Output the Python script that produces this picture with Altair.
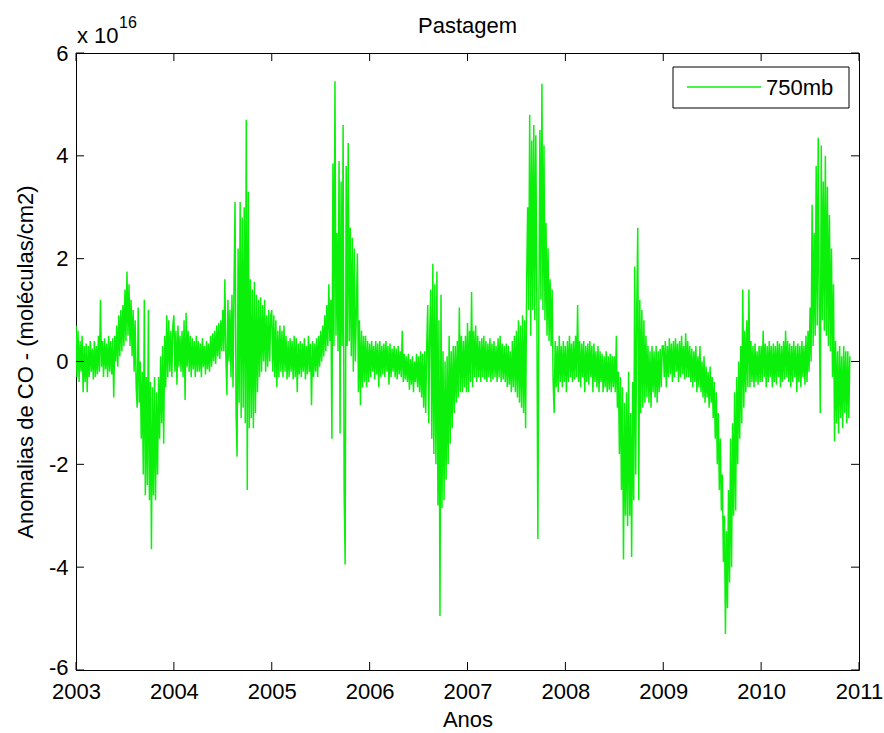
import altair as alt
import pandas as pd

# ---------------- data (units of 1e16 molecules/cm2) ----------------
series_name = "750mb"
title_text = "Pastagem"
x_title = "Anos"
y_title = "Anomalias de CO - (moléculas/cm2)"
scale_base = "x 10"
scale_exp = "16"

years = [2003, 2004, 2005, 2006, 2007, 2008, 2009, 2010]
steps_per_year = 96

v2003 = [0.7, -0.3, 0.6, -0.4, 0.4, -0.2, 0.5, -0.6, 0.3, -0.4, 0.35, -0.6,
         0.3, -0.3, 0.4, -0.2, 0.25, -0.35, 0.4, -0.3, 0.3, -0.25, 0.5, -0.2,
         1.2, -0.1, 0.4, -0.3, 0.45, -0.15, 0.35, -0.3, 0.5, -0.2, 0.4, -0.25,
         0.45, -0.7, 0.5, 0.0, 0.7, -0.1, 0.9, 0.1, 1.0, 0.2, 1.1, 0.3,
         1.4, 0.4, 1.75, 0.5, 1.5, 0.3, 1.2, 0.1, 1.0, -0.2, 0.8, -0.5,
         -0.9, 1.05, -0.8, 0.0, -1.5, -0.2, -2.2, 1.2, -2.6, -0.3, -2.4, 1.0,
         -2.7, -0.4, -3.65, -0.5, -2.6, -0.3, -2.7, -0.6, -2.2, -0.3, -1.5, 0.1,
         -1.2, 0.3, -1.6, 0.5, -0.5, 0.9, -0.3, 0.8, -0.2, 0.6, -0.3, 0.7]
v2004 = [0.9, -0.2, 0.6, -0.45, 0.7, -0.1, 0.5, -0.2, 0.6, -0.3, 0.8, -0.75,
         0.95, -0.1, 0.6, -0.2, 0.5, -0.3, 0.45, -0.15, 0.4, -0.3, 0.5, -0.2,
         0.4, -0.2, 0.35, -0.3, 0.45, -0.1, 0.3, -0.25, 0.4, -0.15, 0.35, -0.2,
         0.5, -0.1, 0.55, 0.0, 0.6, -0.05, 0.7, 0.1, 0.75, 0.05, 0.8, 0.2,
         1.0, 0.2, 1.6, 0.1, -0.65, 1.2, 0.0, 1.0, -0.3, 1.3, -0.5, 1.5,
         3.1, -1.0, -1.85, 2.2, -0.8, 3.1, -1.1, 2.8, -0.9, 3.0, -1.2, 4.7,
         -2.5, 3.3, -1.3, 1.6, -1.1, 1.4, -1.3, 1.55, -1.0, 1.3, -0.6, 1.2,
         -0.3, 1.25, -0.2, 1.1, 0.0, 1.2, -0.2, 0.9, -0.1, 1.0, 0.0, 0.9]
v2005 = [1.0, -0.2, 0.9, -0.3, 0.8, -0.5, 0.6, -0.3, 0.7, -0.2, 0.6, -0.3,
         0.7, -0.2, 0.5, -0.35, 0.4, -0.3, 0.45, -0.2, 0.4, -0.35, 0.5, -0.3,
         0.45, -0.6, 0.35, -0.25, 0.4, -0.3, 0.35, -0.2, 0.45, -0.35, 0.3, -0.25,
         0.5, -0.2, 0.35, -0.85, 0.4, -0.3, 0.35, -0.2, 0.45, -0.3, 0.5, -0.1,
         0.6, 0.0, 0.7, 0.1, 0.9, 0.2, 1.1, 0.3, 1.5, 0.4, 1.2, -1.5,
         3.85, 0.3, 5.45, 0.5, 2.5, 0.2, 3.9, -1.4, 3.5, 0.3, 4.6, -2.55,
         -3.95, 3.8, 0.3, 4.25, 0.4, 2.6, 0.1, 2.4, -0.2, 2.2, 0.0, 1.0,
         2.1, -0.6, 0.8, -0.85, 0.6, -0.5, 0.5, -0.4, 0.5, -0.5, 0.4, -0.4]
v2006 = [0.35, -0.3, 0.4, -0.2, 0.3, -0.35, 0.4, -0.25, 0.35, -0.5, 0.4, -0.3,
         0.3, -0.25, 0.35, -0.3, 0.4, -0.2, 0.3, -0.45, 0.35, -0.3, 0.25, -0.2,
         0.3, -0.3, 0.25, -0.35, 0.3, -0.25, 0.2, -0.3, 0.6, -0.4, 0.15, -0.35,
         0.1, -0.4, 0.15, -0.55, 0.05, -0.45, 0.1, -0.6, 0.0, -0.4, 0.15, -0.5,
         0.1, -0.6, 0.2, -0.7, 0.15, -0.9, 0.2, -1.0, 0.3, 1.1, -1.2, 0.6,
         1.4, -1.5, 1.9, -1.8, 1.5, -2.0, 1.75, -2.8, 0.8, -4.95, 1.3, -2.85,
         0.2, -2.7, 0.0, -2.3, 0.1, -2.0, 0.5, -1.6, 0.2, -1.3, 0.3, -1.0,
         0.3, -0.8, 0.4, -0.7, 1.05, -0.6, 0.5, -0.6, 0.4, -0.5, 0.5, -0.6]
v2007 = [0.75, -0.6, 0.6, -0.4, 1.35, -0.5, 0.6, -0.3, 0.7, -0.4, 0.5, -0.3,
         0.4, -0.4, 0.45, -0.3, 0.5, -0.35, 0.4, -0.4, 0.35, -0.3, 0.45, -0.4,
         0.35, -0.35, 0.4, -0.3, 0.3, -0.4, 0.45, -0.3, 0.5, -0.4, 0.35, -0.35,
         0.3, -0.4, 0.35, -0.5, 0.3, -0.45, 0.2, -0.6, 0.4, -0.5, 0.5, -0.6,
         0.6, -0.7, 0.8, -0.8, 0.7, -0.9, 0.9, -1.0, 0.8, -1.3, 1.5, 3.0,
         1.0, 4.8, 0.5, 4.3, 1.0, 4.6, 0.8, 4.4, 1.2, -3.45, 1.0, 4.5,
         1.2, 5.4, 1.0, 4.2, 0.8, 2.7, 0.5, 2.2, 0.4, 1.6, 0.3, 1.4,
         -0.4, -1.0, 0.4, -0.5, 0.3, -0.6, 0.5, -0.4, 0.3, -0.5, 0.4, -0.4]
v2008 = [0.3, -0.6, 0.4, -0.4, 0.5, -0.3, 0.35, -0.4, 0.4, -0.35, 0.5, -0.3,
         1.1, -0.4, 0.4, -0.5, 0.35, -0.3, 0.4, -0.6, 0.3, -0.4, 0.35, -0.45,
         0.4, -0.3, 0.3, -0.6, 0.35, -0.4, 0.2, -0.5, 0.3, -0.6, 0.2, -0.4,
         0.15, -0.6, 0.1, -0.5, 0.2, -0.6, 0.1, -0.55, 0.15, -0.6, 0.1, -0.5,
         0.1, -0.6, 0.5, -0.9, -0.2, -1.8, -0.3, -2.5, -0.5, -3.85, -0.8, -3.0,
         -0.6, -3.2, -0.2, -3.0, -1.0, -3.8, -0.4, -2.7, 1.85, -2.2, 1.0, 2.6,
         -2.7, 1.2, -1.0, 1.0, -0.9, 0.8, -0.8, 0.5, -0.7, 0.3, -0.8, 0.2,
         -0.9, 0.3, -0.6, 0.2, -0.7, 0.3, -0.8, 0.2, -0.6, 0.25, -0.5, 0.3]
v2009 = [0.3, -0.3, 0.4, -0.5, 0.3, -0.3, 0.45, -0.25, 0.35, -0.4, 0.4, -0.3,
         0.45, -0.2, 0.35, -0.4, 0.4, -0.3, 0.5, -0.25, 0.3, -0.35, 0.55, -0.3,
         0.4, -0.3, 0.3, -0.4, 0.25, -0.5, 0.2, -0.4, 0.3, -0.6, 0.1, -0.5,
         0.3, -0.6, 0.0, -0.7, 0.1, -0.8, -0.1, -0.7, -0.2, -0.9, -0.1, -0.8,
         -0.3, -1.1, -0.4, -1.5, -0.6, -2.0, -1.0, -2.5, -1.5, -2.9, -2.2, -3.9,
         -3.0, -5.3, -3.3, -4.8, -2.5, -4.3, -1.5, -4.0, -1.2, -3.0, -0.6, -2.9,
         -0.3, -2.0, 0.0, -1.5, 0.3, -1.2, 1.4, -0.9, 0.6, -0.6, 0.8, -0.5,
         1.4, -0.5, 0.4, -0.4, 0.3, -0.5, 0.35, -0.4, 0.2, -0.45, 0.3, -0.4]
v2010 = [0.3, -0.4, 0.6, -0.3, 0.35, -0.5, 0.3, -0.4, 0.4, -0.3, 0.3, -0.5,
         0.35, -0.4, 0.3, -0.45, 0.4, -0.3, 0.35, -0.5, 0.3, -0.4, 0.4, -0.35,
         0.6, -0.3, 0.4, -0.4, 0.35, -0.5, 0.3, -0.4, 0.4, -0.3, 0.3, -0.6,
         0.35, -0.4, 0.3, -0.5, 0.4, -0.3, 0.3, -0.45, 0.5, -0.4, 0.6, -0.2,
         1.05, 0.0, 3.05, 0.3, 2.5, 0.5, 3.8, 0.7, 4.35, 1.0, -1.0, 4.2,
         0.8, 3.5, 0.6, 4.0, 0.5, 3.4, 0.3, 2.85, 0.2, 2.2, -0.3, 1.5,
         -1.55, 0.4, -1.2, 0.2, -1.4, 0.3, -1.1, 0.1, -1.3, 0.3, -1.0, 0.2,
         -1.2, 0.2, -1.1, 0.1]

x_ticks = [2003, 2004, 2005, 2006, 2007, 2008, 2009, 2010, 2011]
y_ticks = [-6, -4, -2, 0, 2, 4, 6]

rows = []
for yr, vals in zip(years, [v2003, v2004, v2005, v2006, v2007, v2008, v2009, v2010]):
    for i, v in enumerate(vals):
        rows.append({"t": yr + i / steps_per_year, "v": v})
df = pd.DataFrame(rows)

# ---------------- layout ----------------
W, H = 783, 617
FONT = "Liberation Sans"
GREEN = "#0af00a"
TICK = 8

xscale = alt.Scale(domain=[2003, 2011], nice=False, zero=False)
yscale = alt.Scale(domain=[-6, 6], nice=False, zero=False)

x_axis = alt.Axis(values=x_ticks, labelExpr="'' + datum.value", tickSize=0,
                  domain=False, grid=False, labelPadding=11, labelFlush=False,
                  title=x_title, titlePadding=7)
y_axis = alt.Axis(values=y_ticks, labelExpr="'' + datum.value", tickSize=0,
                  domain=False, grid=False, labelPadding=8, labelFlush=False,
                  labelOffset={"condition": {"test": "datum.value === -6", "value": -3},
                               "value": 0},
                  title=y_title, titlePadding=11)

line = alt.Chart(df).mark_line(color=GREEN, strokeWidth=1.5, clip=True).encode(
    x=alt.X("t:Q", scale=xscale, axis=x_axis),
    y=alt.Y("v:Q", scale=yscale, axis=y_axis),
)

xt = pd.DataFrame({"t": x_ticks})
yt = pd.DataFrame({"v": y_ticks})

xt_bottom = alt.Chart(xt).mark_rule(color="black", strokeWidth=1).encode(
    x=alt.X("t:Q", scale=xscale, axis=x_axis), y=alt.value(H), y2=alt.value(H - TICK))
xt_top = alt.Chart(xt).mark_rule(color="black", strokeWidth=1).encode(
    x=alt.X("t:Q", scale=xscale, axis=x_axis), y=alt.value(0), y2=alt.value(TICK))
yt_left = alt.Chart(yt).mark_rule(color="black", strokeWidth=1).encode(
    y=alt.Y("v:Q", scale=yscale, axis=y_axis), x=alt.value(0), x2=alt.value(TICK))
yt_right = alt.Chart(yt).mark_rule(color="black", strokeWidth=1).encode(
    y=alt.Y("v:Q", scale=yscale, axis=y_axis), x=alt.value(W), x2=alt.value(W - TICK))

leg = pd.DataFrame({"label": [series_name]})
leg_box = alt.Chart(leg).mark_rect(fill="white", stroke="black", strokeWidth=1).encode(
    x=alt.value(597), x2=alt.value(773), y=alt.value(14), y2=alt.value(55))
leg_line = alt.Chart(leg).mark_rule(color=GREEN, strokeWidth=1.5).encode(
    x=alt.value(611), x2=alt.value(685), y=alt.value(34))
leg_text = alt.Chart(leg).mark_text(align="left", baseline="middle", font=FONT,
                                    fontSize=22, color="black").encode(
    x=alt.value(690), y=alt.value(35), text="label:N")

note = pd.DataFrame({"base": [scale_base], "exp": [scale_exp], "title": [title_text]})
note_base = alt.Chart(note).mark_text(align="left", baseline="alphabetic", font=FONT,
                                      fontSize=22, color="black").encode(
    x=alt.value(1), y=alt.value(-10), text="base:N")
note_exp = alt.Chart(note).mark_text(align="left", baseline="alphabetic", font=FONT,
                                     fontSize=16, color="black").encode(
    x=alt.value(43), y=alt.value(-25), text="exp:N")
title_mark = alt.Chart(note).mark_text(align="center", baseline="alphabetic", font=FONT,
                                       fontSize=22, color="black").encode(
    x=alt.value(W / 2), y=alt.value(-20), text="title:N")

chart = alt.layer(
    line, xt_bottom, xt_top, yt_left, yt_right,
    leg_box, leg_line, leg_text, note_base, note_exp, title_mark
).properties(
    width=W, height=H,
    autosize=alt.AutoSizeParams(type="none"),
    padding={"left": 76, "top": 53, "right": 25, "bottom": 63},
    background="white",
).configure_view(
    stroke="black", strokeWidth=1
).configure_axis(
    labelFont=FONT, labelFontSize=22, labelColor="black",
    titleFont=FONT, titleFontSize=22, titleFontWeight="normal", titleColor="black",
)

chart.save("out.html", embed_options={"renderer": "svg", "actions": False})
